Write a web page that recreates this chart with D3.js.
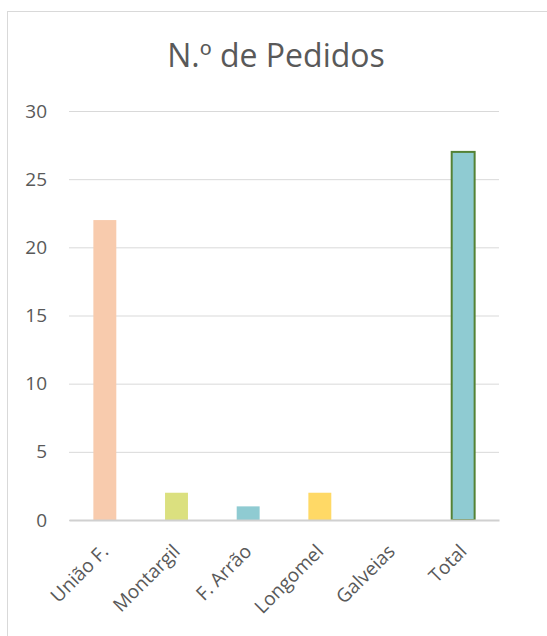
<!DOCTYPE html>
<html><head><meta charset="utf-8">
<script src="https://cdn.jsdelivr.net/npm/d3@7"></script>
<style>body{margin:0;background:#fff;font-family:"Open Sans",sans-serif;}</style>
</head><body><svg id="c" width="547" height="636"></svg>
<script>
const categories = ["União F.", "Montargil", "F. Arrão", "Longomel", "Galveias", "Total"];
const values = [22, 2, 1, 2, 0, 27];
const colors = ["#F8CBAD", "#DBE07F", "#8FCBD2", "#FFD966", "#A9D18E", "#8FCBD2"];
const yTicks = [0, 5, 10, 15, 20, 25, 30];
const title = "N.º de Pedidos";

const svg = d3.select("#c");
svg.append("rect").attr("x", 7.5).attr("y", 11.5).attr("width", 560).attr("height", 640)
  .attr("fill", "#fff").attr("stroke", "#d9d9d9").attr("stroke-width", 1);

const x = d3.scaleBand().domain(categories).range([69, 499]).paddingInner(0.68).paddingOuter(0.34);
const y = d3.scaleLinear().domain([0, 30]).range([520, 111]);

svg.append("text").attr("x", 276).attr("y", 67).attr("text-anchor", "middle")
  .attr("font-size", 32).attr("fill", "#595959").text(title);

const gy = svg.append("g").attr("transform", "translate(69,0)")
  .call(d3.axisLeft(y).tickValues(yTicks).tickSize(-430).tickPadding(22));
gy.select(".domain").remove();
gy.selectAll(".tick line").attr("stroke", "#d9d9d9");
gy.selectAll(".tick text").attr("font-size", 19).attr("fill", "#595959").attr("font-family", "Open Sans");

svg.append("g").selectAll("rect").data(categories).join("rect")
  .attr("x", d => x(d)).attr("width", x.bandwidth())
  .attr("y", (d, i) => y(values[i])).attr("height", (d, i) => y(0) - y(values[i]))
  .attr("fill", (d, i) => colors[i])
  .attr("stroke", d => d === "Total" ? "#548235" : "none")
  .attr("stroke-width", 2);

const gx = svg.append("g").attr("transform", "translate(0,520)")
  .call(d3.axisBottom(x).tickSize(0).tickPadding(10));
gx.select(".domain").attr("stroke", "#d0d0d0").attr("stroke-width", 2);
gx.selectAll(".tick text").attr("font-size", 19).attr("fill", "#595959").attr("font-family", "Open Sans")
  .attr("text-anchor", "end").attr("x", 0).attr("y", 0).attr("dy", "0.35em")
  .attr("transform", "translate(0,28) rotate(-45)");
</script></body></html>
